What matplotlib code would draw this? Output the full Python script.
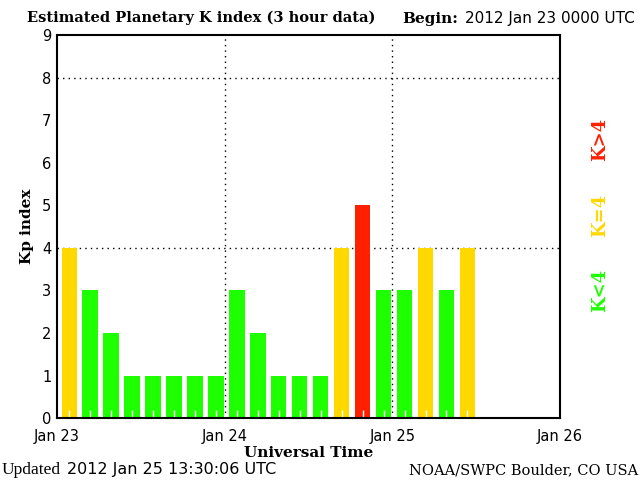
import matplotlib.pyplot as plt
from matplotlib.ticker import FixedLocator

# Kp values, one per 3-hour slot from 2012 Jan 23 0000 UTC
kp_values = [4, 3, 2, 1, 1, 1, 1, 1,
             3, 2, 1, 1, 1, 4, 5, 3,
             3, 4, 3, 4]
day_labels = ['Jan 23', 'Jan 24', 'Jan 25', 'Jan 26']
y_ticks = list(range(10))

GREEN = '#1eff00'
YELLOW = '#ffd800'
RED = '#ff2000'


def bar_color(k):
    if k < 4:
        return GREEN
    if k == 4:
        return YELLOW
    return RED


fig = plt.figure(figsize=(6.4, 4.8), dpi=100)
ax = fig.add_axes([0.089, 0.129, 0.786, 0.798])
ax.set_axisbelow(False)

starts = [3 * i + 0.65 for i in range(len(kp_values))]
ax.bar(starts, kp_values, width=2.2, align='edge',
       color=[bar_color(k) for k in kp_values], zorder=2)

ax.set_xlim(0, 72)
ax.set_ylim(0, 9)
ax.set_xticks([0, 24, 48, 72])
ax.set_xticklabels(day_labels)
ax.set_yticks(y_ticks)
ax.xaxis.set_minor_locator(FixedLocator([3 * i + 1.75 for i in range(24)]))
ax.tick_params(which='major', length=0, labelsize=10.5, pad=8, labelcolor='black')
ax.tick_params(axis='y', which='major', pad=4)
ax.tick_params(which='minor', direction='in', length=6, width=1, color='white')

# dotted grid at Kp 4, 8 and day boundaries
for y in (4, 8):
    ax.axhline(y, color='black', linestyle=(0, (1, 3)), linewidth=1, zorder=1)
for x in (24, 48):
    ax.axvline(x, color='black', linestyle=(0, (1, 3)), linewidth=1, zorder=3)

for s in ax.spines.values():
    s.set_linewidth(1.5)
    s.set_zorder(5)

serif = 'DejaVu Serif'
ax.set_ylabel('Kp index', family=serif, fontweight='bold', fontsize=11, labelpad=6)
ax.set_xlabel('Universal Time', family=serif, fontweight='bold', fontsize=11, labelpad=1)

fig.text(0.042, 0.955, 'Estimated Planetary K index (3 hour data)',
         family=serif, fontweight='bold', fontsize=10.5)
fig.text(0.628, 0.952, 'Begin:', family=serif, fontweight='bold', fontsize=11)
fig.text(0.727, 0.952, '2012 Jan 23 0000 UTC', family='DejaVu Sans', fontsize=11)

fig.text(0.002, 0.012, 'Updated', family='Liberation Serif', fontsize=12.5)
fig.text(0.104, 0.012, '2012 Jan 25 13:30:06 UTC', family='DejaVu Sans', fontsize=11.5)
fig.text(0.997, 0.012, 'NOAA/SWPC Boulder, CO USA', family=serif, fontsize=10.5, ha='right')

fig.text(0.937, 0.395, 'K<4', color=GREEN, rotation=90, family=serif,
         fontsize=13, fontweight='bold', ha='center', va='center')
fig.text(0.937, 0.552, 'K=4', color=YELLOW, rotation=90, family=serif,
         fontsize=13, fontweight='bold', ha='center', va='center')
fig.text(0.937, 0.71, 'K>4', color=RED, rotation=90, family=serif,
         fontsize=13, fontweight='bold', ha='center', va='center')

fig.savefig('out.png', dpi=100)
